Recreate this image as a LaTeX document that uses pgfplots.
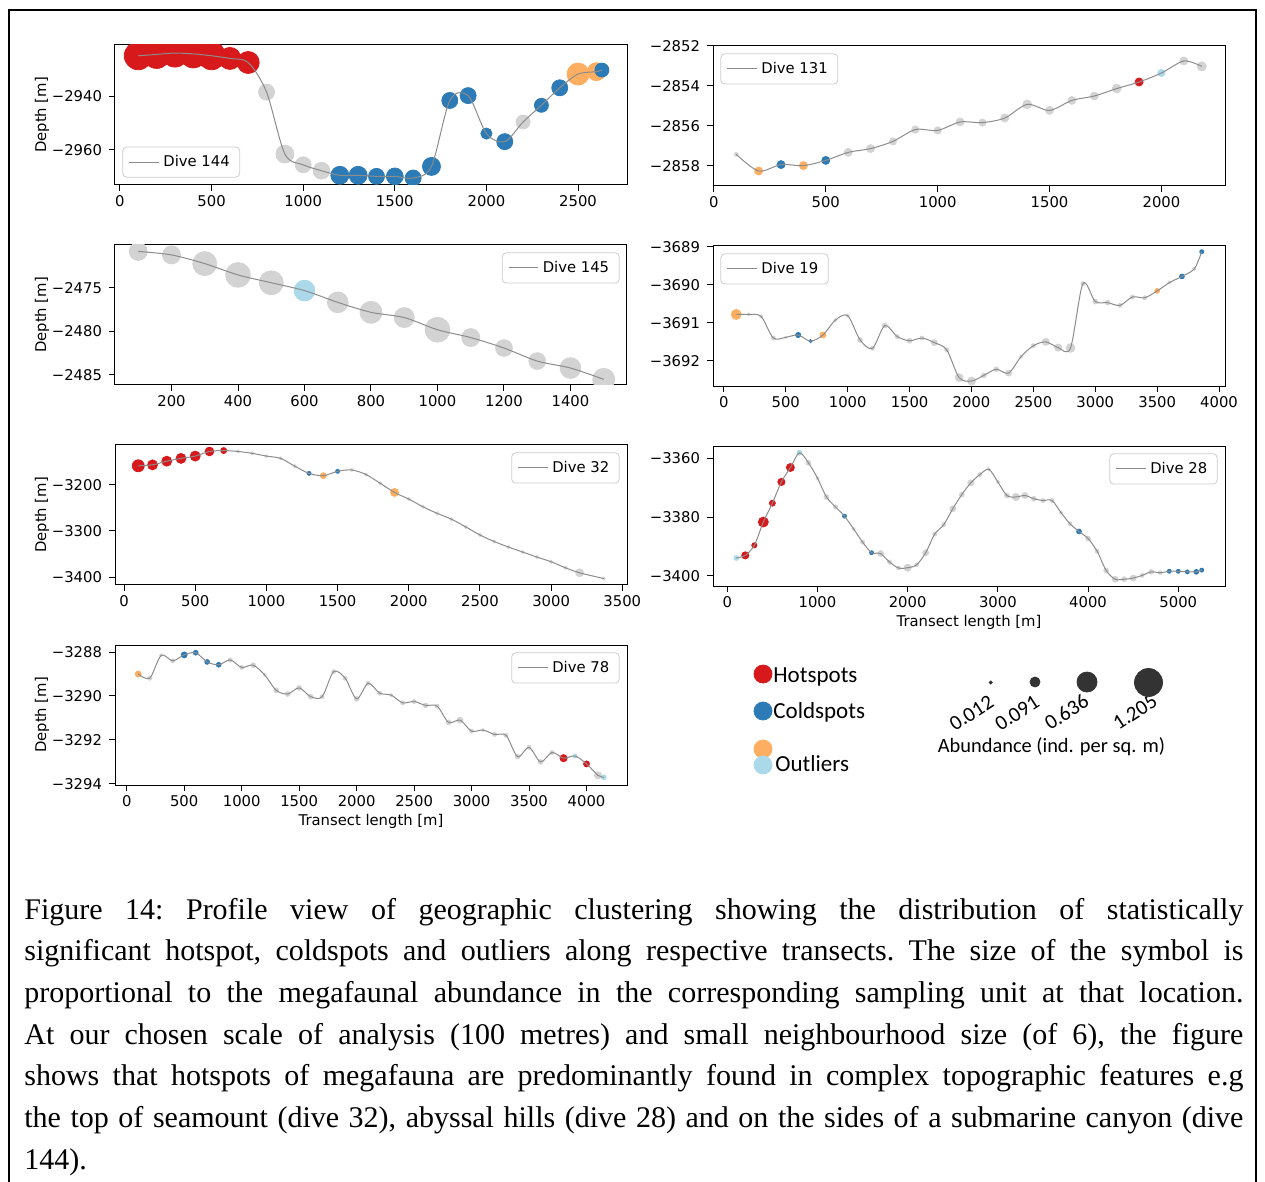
\documentclass[border=0pt]{standalone}
\usepackage{fontspec}
\setsansfont{DejaVu Sans}
\newfontfamily\carlito{Carlito}
\newfontfamily\capfont{Liberation Serif}
\usepackage{pgfplots}
\usepackage{pgfplotstable}
\pgfplotsset{compat=1.18}

\definecolor{hot}{RGB}{215,25,28}
\definecolor{cold}{RGB}{44,123,182}
\definecolor{outo}{RGB}{253,174,97}
\definecolor{outl}{RGB}{171,217,233}
\definecolor{lgray}{RGB}{211,211,211}
\definecolor{lineg}{RGB}{140,140,140}
\definecolor{dk}{RGB}{51,51,51}

\newcommand\tickfont{\fontsize{7.4}{8.6}\selectfont\sffamily}

\pgfplotsset{
  dive/.style={
    scale only axis, width=256pt, height=70pt, anchor=north west,
    axis line style={line width=0.5pt},
    tick align=outside, tick pos=left, major tick length=3pt,
    every tick/.style={black, line width=0.5pt},
    tick label style={font=\tickfont},
    xticklabel style={yshift=1.5pt},
    clip marker paths=true,
    legend style={font=\tickfont, draw=black!20, rounded corners=2pt,
      inner xsep=3pt, inner ysep=2pt, fill=white},
    legend image code/.code={\draw[#1] (0pt,0pt) -- (14.8pt,0pt);},
    every axis y label/.style={at={(axis description cs:-0.1426,0.5)}, rotate=90, anchor=center, font=\tickfont},
    every axis x label/.style={at={(axis description cs:0.5,-0.26)}, anchor=center, font=\tickfont},
    every mark/.append style={yscale=1.12},
  },
  sc/.style={scatter, only marks, forget plot, scatter src=explicit symbolic,
    scatter/classes={h={mark=*,hot}, c={mark=*,cold}, o={mark=*,outo}, l={mark=*,outl}, g={mark=*,lgray}},
    visualization depends on={\thisrow{r} \as \rr},
    scatter/@pre marker code/.append style={/tikz/mark size=\rr}},
  ln/.style={color=lineg, line width=0.5pt, smooth, tension=0.5, mark=none},
}

% Dive 144
\pgfplotstableread{
x y r c
100 -2925.0 7 h
200 -2924.5 7 h
300 -2924.0 7 h
400 -2924.3 7 h
500 -2925.0 7 h
600 -2926.0 5.5 h
700 -2927.5 5.5 h
800 -2938.5 4 g
900 -2961.5 4.5 g
1000 -2965.5 4 g
1100 -2967.7 4.2 g
1200 -2969.4 4.5 c
1300 -2969.4 4.5 c
1400 -2969.8 4 c
1500 -2969.8 4.2 c
1600 -2970.4 4 c
1700 -2966.1 4.5 c
1800 -2941.6 4 c
1900 -2939.8 4 c
2000 -2953.9 2.8 c
2100 -2956.9 4 c
2200 -2949.6 3.5 g
2300 -2943.4 3.5 c
2400 -2936.9 4 c
2500 -2931.8 5.5 o
2600 -2930.9 4.5 o
2630 -2930.3 3.5 c
}\tA
% Dive 131
\pgfplotstableread{
x y r c
100 -2857.42 1 g
200 -2858.25 2 o
300 -2857.93 2 c
400 -2857.98 2 o
500 -2857.72 2 c
600 -2857.32 2 g
700 -2857.13 2 g
800 -2856.77 1.8 g
900 -2856.18 1.8 g
1000 -2856.22 1.8 g
1100 -2855.80 2 g
1200 -2855.83 1.8 g
1300 -2855.60 2 g
1400 -2854.92 2.2 g
1500 -2855.22 2 g
1600 -2854.72 2 g
1700 -2854.50 2 g
1800 -2854.13 2.2 g
1900 -2853.80 2 h
2000 -2853.35 1.8 l
2100 -2852.75 2 g
2180 -2853.02 2.3 g
}\tB
% Dive 145
\pgfplotstableread{
x y r c
100 -2470.8 4.5 g
200 -2471.2 4.5 g
300 -2472.2 6 g
400 -2473.5 6.2 g
500 -2474.4 6 g
600 -2475.3 5.2 l
700 -2476.65 5.2 g
800 -2477.8 5.5 g
900 -2478.4 5 g
1000 -2479.8 6.2 g
1100 -2480.7 4.5 g
1200 -2481.9 4.2 g
1300 -2483.4 4.2 g
1400 -2484.2 5.2 g
1500 -2485.5 5.5 g
}\tC
% Dive 19
\pgfplotstableread{
x y r c
100 -3690.78 2.5 o
200 -3690.78 0.8 g
300 -3690.83 0.8 g
400 -3691.40 1 g
500 -3691.38 0.6 g
600 -3691.32 1.3 c
700 -3691.48 0.8 c
800 -3691.32 1.5 o
900 -3690.93 0.8 g
1000 -3690.81 0.8 g
1100 -3691.45 1.2 g
1200 -3691.67 1 g
1300 -3691.07 1.2 g
1400 -3691.36 1 g
1500 -3691.47 1.2 g
1600 -3691.40 1 g
1700 -3691.52 1.5 g
1800 -3691.71 1 g
1900 -3692.44 2 g
2000 -3692.53 2 g
2100 -3692.38 1.2 g
2200 -3692.22 1.2 g
2300 -3692.32 1.5 g
2400 -3691.89 0.8 g
2500 -3691.60 1 g
2600 -3691.50 1.8 g
2700 -3691.65 1.8 g
2800 -3691.66 2.2 g
2900 -3689.97 1 g
3000 -3690.44 1.2 g
3100 -3690.47 1.2 g
3200 -3690.54 1 g
3300 -3690.32 1 g
3400 -3690.34 1 g
3500 -3690.16 1.2 o
3600 -3689.94 0.8 g
3700 -3689.78 1.2 c
3800 -3689.58 0.8 g
3860 -3689.13 1 c
}\tD
% Dive 32
\pgfplotstableread{
x y r c
100 -3159 3 h
200 -3157 2.5 h
300 -3149 2.5 h
400 -3143 2.5 h
500 -3138 2.5 h
600 -3128 2.2 h
700 -3126 1.5 h
800 -3128 0.8 g
900 -3132 0.8 g
1000 -3138 0.8 g
1100 -3143 0.8 g
1200 -3160 0.8 g
1300 -3175.4 1 c
1400 -3180.4 1.5 o
1500 -3171 1 c
1600 -3168 0.8 g
1700 -3178 0.8 g
1800 -3197 0.8 g
1900 -3216.7 2 o
2000 -3231 0.8 g
2100 -3247.8 0.8 g
2200 -3262 0.8 g
2300 -3274.6 0.8 g
2400 -3291.3 0.8 g
2500 -3308.7 0.8 g
2600 -3323 0.8 g
2700 -3334.8 0.8 g
2800 -3345.7 0.8 g
2900 -3356.5 0.8 g
3000 -3366.7 0.8 g
3100 -3379.7 0.8 g
3200 -3390.6 2 g
3370 -3403 0.8 g
}\tE
% Dive 28
\pgfplotstableread{
x y r c
100 -3393.9 1.2 l
200 -3393.0 1.8 h
300 -3389.6 1.3 h
400 -3381.7 2.5 h
500 -3375.3 1.5 h
600 -3368.1 1.8 h
700 -3363.2 2 h
800 -3358.2 1.2 l
900 -3361.6 1.2 g
1000 -3366.8 0.8 g
1100 -3373.2 1.2 g
1200 -3376.6 1 g
1300 -3379.7 1 c
1400 -3384.0 0.8 g
1500 -3388.5 1 g
1600 -3392.1 1 c
1700 -3392.4 1.5 g
1800 -3395.3 1 g
1900 -3397.3 1 g
2000 -3397.2 1.8 g
2100 -3396.2 1 g
2200 -3392.1 1.5 g
2300 -3385.8 1 g
2400 -3382.6 1 g
2500 -3377.2 1.5 g
2600 -3372.4 1.2 g
2700 -3368.4 1.5 g
2800 -3365.6 1 g
2900 -3363.8 0.8 g
3000 -3368.1 0.8 g
3100 -3372.7 1.2 g
3200 -3373.2 1.8 g
3300 -3372.7 1.5 g
3400 -3373.8 1.2 g
3500 -3374.4 1 g
3600 -3374.4 1 g
3700 -3378.5 0.8 g
3800 -3382.3 1 g
3900 -3384.9 1.2 c
4000 -3387.3 1.2 g
4100 -3391.6 1 g
4200 -3398.1 1.2 g
4300 -3401.1 1.5 g
4400 -3401.1 1.2 g
4500 -3400.7 1.5 g
4600 -3399.8 1 g
4700 -3398.6 1.2 g
4800 -3398.9 1 g
4900 -3398.4 1 c
5000 -3398.4 1 c
5100 -3398.6 1 c
5200 -3398.6 1.2 c
5260 -3398.0 1 c
}\tF
% Dive 78
\pgfplotstableread{
x y r c
100 -3289.00 1.5 o
200 -3289.19 1 g
300 -3288.15 0.8 g
400 -3288.40 1 g
500 -3288.13 1.5 c
600 -3288.03 1.2 c
700 -3288.45 1.2 c
800 -3288.58 1.2 c
900 -3288.36 1 g
1000 -3288.70 1 g
1100 -3288.60 1.2 g
1200 -3289.04 0.8 g
1300 -3289.74 1.2 g
1400 -3289.91 1.2 g
1500 -3289.63 1.2 g
1600 -3290.03 1.2 g
1700 -3290.03 1 g
1800 -3288.89 1 g
1900 -3289.19 1 g
2000 -3290.13 1.2 g
2100 -3289.42 1 g
2200 -3289.87 1 g
2300 -3289.96 0.8 g
2400 -3290.31 1 g
2500 -3290.25 1 g
2600 -3290.43 1.2 g
2700 -3290.46 1 g
2800 -3291.20 1.2 g
2900 -3291.10 1.5 g
3000 -3291.60 1 g
3100 -3291.55 0.8 g
3200 -3291.75 1 g
3300 -3291.79 1 g
3400 -3292.76 1.2 g
3500 -3292.34 1 g
3600 -3293.00 1.2 g
3700 -3292.57 1 g
3800 -3292.83 1.8 h
3900 -3292.73 1 l
4000 -3293.09 1.5 h
4100 -3293.61 1.8 g
4150 -3293.70 1.2 l
}\tG

\begin{document}
\begin{tikzpicture}[x=0.5pt,y=-0.5pt]
\path[use as bounding box] (0,0) rectangle (1265,1182);
\draw[line width=1.1pt] (9,1195) -- (9,10) -- (1256,10) -- (1256,1195);

% Dive 144
\begin{axis}[dive, at={(57.5pt,-22.5pt)},
  xmin=-27, xmax=2767, ymin=-2973, ymax=-2921,
  xtick={0,500,1000,1500,2000,2500}, xticklabels={0,500,1000,1500,2000,2500},
  ytick={-2960,-2940}, yticklabels={−2960,−2940},
  ylabel={Depth [m]},
  legend style={at={(0.0145,0.053)}, anchor=south west}]
\addplot[sc] table[x=x,y=y,meta=c] {\tA};
\addplot[ln] table[x=x,y=y] {\tA};
\addlegendentry{Dive 144}
\end{axis}

% Dive 131
\begin{axis}[dive, at={(356.5pt,-23pt)},
  xmin=-4, xmax=2284, ymin=-2859, ymax=-2852,
  xtick={0,500,1000,1500,2000}, xticklabels={0,500,1000,1500,2000},
  ytick={-2858,-2856,-2854,-2852}, yticklabels={−2858,−2856,−2854,−2852},
  legend style={at={(0.0145,0.947)}, anchor=north west}]
\addplot[sc] table[x=x,y=y,meta=c] {\tB};
\addplot[ln] table[x=x,y=y] {\tB};
\addlegendentry{Dive 131}
\end{axis}

% Dive 145
\begin{axis}[dive, at={(57.5pt,-122.5pt)},
  xmin=30, xmax=1570, ymin=-2486.15, ymax=-2470.06,
  xtick={200,400,600,800,1000,1200,1400}, xticklabels={200,400,600,800,1000,1200,1400},
  ytick={-2485,-2480,-2475}, yticklabels={−2485,−2480,−2475},
  ylabel={Depth [m]},
  every mark/.append style={yscale=1.12},
  legend style={at={(0.9855,0.947)}, anchor=north east}]
\addplot[sc] table[x=x,y=y,meta=c] {\tC};
\addplot[ln] table[x=x,y=y] {\tC};
\addlegendentry{Dive 145}
\end{axis}

% Dive 19
\begin{axis}[dive, at={(356.5pt,-123pt)},
  xmin=-88, xmax=4048, ymin=-3692.66, ymax=-3688.98,
  xtick={0,500,1000,1500,2000,2500,3000,3500,4000}, xticklabels={0,500,1000,1500,2000,2500,3000,3500,4000},
  ytick={-3692,-3691,-3690,-3689}, yticklabels={−3692,−3691,−3690,−3689},
  legend style={at={(0.0145,0.947)}, anchor=north west}]
\addplot[sc] table[x=x,y=y,meta=c] {\tD};
\addplot[ln] table[x=x,y=y] {\tD};
\addlegendentry{Dive 19}
\end{axis}

% Dive 32
\begin{axis}[dive, at={(57.5pt,-222.5pt)},
  xmin=-63.5, xmax=3533, ymin=-3417, ymax=-3114,
  xtick={0,500,1000,1500,2000,2500,3000,3500}, xticklabels={0,500,1000,1500,2000,2500,3000,3500},
  ytick={-3400,-3300,-3200}, yticklabels={−3400,−3300,−3200},
  ylabel={Depth [m]},
  legend style={at={(0.9855,0.947)}, anchor=north east}]
\addplot[sc] table[x=x,y=y,meta=c] {\tE};
\addplot[ln] table[x=x,y=y] {\tE};
\addlegendentry{Dive 32}
\end{axis}

% Dive 28
\begin{axis}[dive, at={(356.5pt,-223pt)},
  xmin=-158, xmax=5518, ymin=-3403.4, ymax=-3355.9,
  xtick={0,1000,2000,3000,4000,5000}, xticklabels={0,1000,2000,3000,4000,5000},
  ytick={-3400,-3380,-3360}, yticklabels={−3400,−3380,−3360},
  xlabel={Transect length [m]},
  legend style={at={(0.9855,0.947)}, anchor=north east}]
\addplot[sc] table[x=x,y=y,meta=c] {\tF};
\addplot[ln] table[x=x,y=y] {\tF};
\addlegendentry{Dive 28}
\end{axis}

% Dive 78
\begin{axis}[dive, at={(57.5pt,-322.5pt)},
  xmin=-102, xmax=4352, ymin=-3294.05, ymax=-3287.68,
  xtick={0,500,1000,1500,2000,2500,3000,3500,4000}, xticklabels={0,500,1000,1500,2000,2500,3000,3500,4000},
  ytick={-3294,-3292,-3290,-3288}, yticklabels={−3294,−3292,−3290,−3288},
  ylabel={Depth [m]}, xlabel={Transect length [m]},
  legend style={at={(0.9855,0.947)}, anchor=north east}]
\addplot[sc] table[x=x,y=y,meta=c] {\tG};
\addplot[ln] table[x=x,y=y] {\tG};
\addlegendentry{Dive 78}
\end{axis}

% Legend panel and caption (pixel coordinates)
\begin{axis}[at={(0pt,0pt)}, anchor=north west, scale only axis,
  width=632.5pt, height=591pt, xmin=0, xmax=1265, ymin=0, ymax=1182,
  y dir=reverse, hide axis, clip=false,
  every mark/.append style={yscale=1.1}]
\addplot[only marks, mark=*, hot, mark size=4.5pt] coordinates {(763,674)};
\addplot[only marks, mark=*, cold, mark size=4.5pt] coordinates {(763,711)};
\addplot[only marks, mark=*, outo, mark size=4.5pt] coordinates {(763,749)};
\addplot[only marks, mark=*, outl, mark size=4.5pt] coordinates {(763,765)};
\addplot[only marks, mark=*, dk, mark size=0.75pt] coordinates {(990.7,682.5)};
\addplot[only marks, mark=*, dk, mark size=2.5pt] coordinates {(1035,682)};
\addplot[only marks, mark=*, dk, mark size=5pt] coordinates {(1087,682)};
\addplot[only marks, mark=*, dk, mark size=7pt] coordinates {(1148.5,682.5)};
\node[anchor=base west, inner sep=0, font=\carlito\fontsize{11.5}{13}\selectfont] at (axis cs:773,682) {Hotspots};
\node[anchor=base west, inner sep=0, font=\carlito\fontsize{11.5}{13}\selectfont] at (axis cs:773,718) {Coldspots};
\node[anchor=base west, inner sep=0, font=\carlito\fontsize{11.5}{13}\selectfont] at (axis cs:775,771.5) {Outliers};
\node[rotate=33, inner sep=0, font=\carlito\fontsize{10.5}{12}\selectfont] at (axis cs:971.5,713) {0.012};
\node[rotate=33, inner sep=0, font=\carlito\fontsize{10.5}{12}\selectfont] at (axis cs:1017,713) {0.091};
\node[rotate=33, inner sep=0, font=\carlito\fontsize{10.5}{12}\selectfont] at (axis cs:1066.5,712) {0.636};
\node[rotate=33, inner sep=0, font=\carlito\fontsize{10.5}{12}\selectfont] at (axis cs:1135,712) {1.205};
\node[anchor=base, inner sep=0, font=\carlito\fontsize{10.2}{12}\selectfont] at (axis cs:1051.5,752) {Abundance (ind. per sq. m)};
\node[anchor=base west, inner sep=0] at (axis cs:24,919) {\parbox[t]{609.5pt}{\capfont\fontsize{15}{20.85}\selectfont\frenchspacing
Figure 14: Profile view of geographic clustering showing the distribution of statistically\linebreak
significant hotspot, coldspots and outliers along respective transects. The size of the symbol is\linebreak
proportional to the megafaunal abundance in the corresponding sampling unit at that location.\linebreak
At our chosen scale of analysis (100 metres) and small neighbourhood size (of 6), the figure\linebreak
shows that hotspots of megafauna are predominantly found in complex topographic features e.g\linebreak
the top of seamount (dive 32), abyssal hills (dive 28) and on the sides of a submarine canyon (dive\linebreak
144).}};
\end{axis}
\end{tikzpicture}
\end{document}
